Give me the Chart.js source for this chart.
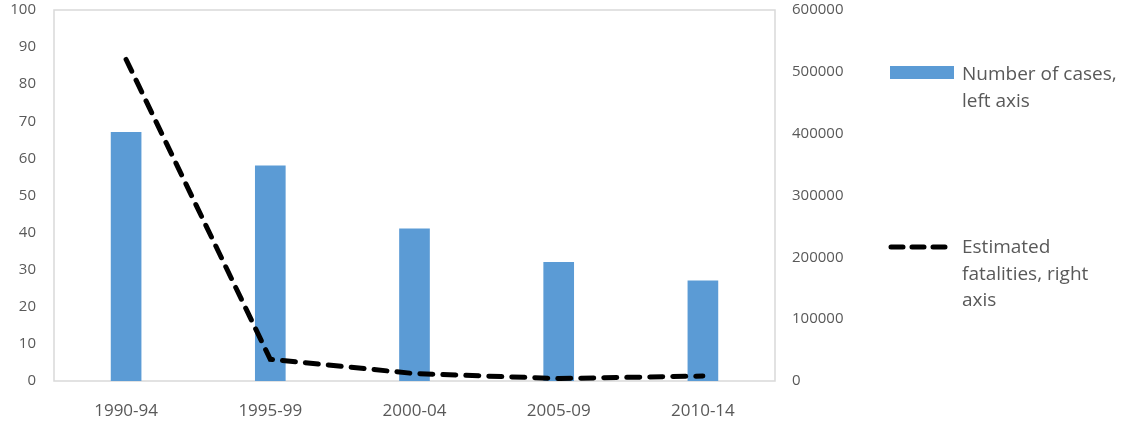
<!DOCTYPE html>
<html>
<head>
<meta charset="utf-8">
<script src="https://cdn.jsdelivr.net/npm/chart.js@4/dist/chart.umd.min.js"></script>
<style>
  html, body { margin: 0; padding: 0; background: #fff; }
  #wrap { position: relative; width: 1127px; height: 421px; }
</style>
</head>
<body>
<div id="wrap"><canvas id="chart" width="1127" height="421"></canvas></div>
<script>
const periods = ['1990-94', '1995-99', '2000-04', '2005-09', '2010-14'];
const cases = [67, 58, 41, 32, 27];
const fatalities = [520000, 35000, 12000, 4000, 8000];
const leftTicks = [0, 10, 20, 30, 40, 50, 60, 70, 80, 90, 100];
const rightTicks = [0, 100000, 200000, 300000, 400000, 500000, 600000];
const legendLines = [['Number of cases,', 'left axis'], ['Estimated', 'fatalities, right', 'axis']];

const gray = '#595959';
const frame = '#d9d9d9';

// box round the plot area
const frameBox = {
  id: 'frameBox',
  beforeDatasetsDraw(c) {
    const a = c.chartArea, ctx = c.ctx;
    ctx.save();
    ctx.strokeStyle = frame;
    ctx.lineWidth = 1.5;
    ctx.strokeRect(a.left, a.top, a.right - a.left, a.bottom - a.top);
    ctx.restore();
  }
};

// legend on the right, lines broken like the original
const sideLegend = {
  id: 'sideLegend',
  afterDraw(c) {
    const ctx = c.ctx;
    const ds = c.data.datasets;
    ctx.save();
    ctx.font = '19px "Open Sans"';
    ctx.textBaseline = 'middle';

    ctx.fillStyle = ds[0].backgroundColor;
    ctx.fillRect(890, 66, 64, 13);

    ctx.strokeStyle = ds[1].borderColor;
    ctx.lineWidth = 5;
    ctx.lineCap = 'round';
    ctx.setLineDash([12, 9]);
    ctx.beginPath();
    ctx.moveTo(891, 247);
    ctx.lineTo(950, 247);
    ctx.stroke();

    ctx.fillStyle = gray;
    const starts = [75, 248];
    legendLines.forEach((lines, i) => {
      lines.forEach((t, j) => ctx.fillText(t, 962, starts[i] + j * 26.5));
    });
    ctx.restore();
  }
};

new Chart(document.querySelector('#chart').getContext('2d'), {
  type: 'bar',
  data: {
    labels: periods,
    datasets: [
      {
        label: 'Number of cases, left axis',
        data: cases,
        backgroundColor: '#5b9bd5',
        barThickness: 30,
        yAxisID: 'y',
        order: 2
      },
      {
        type: 'line',
        label: 'Estimated fatalities, right axis',
        data: fatalities,
        borderColor: '#000',
        borderWidth: 5,
        borderDash: [13, 10],
        borderCapStyle: 'round',
        pointRadius: 0,
        tension: 0,
        fill: false,
        yAxisID: 'y1',
        order: 1
      }
    ]
  },
  options: {
    responsive: false,
    animation: false,
    layout: { padding: { top: 10 } },
    plugins: { legend: { display: false }, tooltip: { enabled: false } },
    scales: {
      x: {
        grid: { display: false, drawTicks: false },
        border: { display: false },
        ticks: { color: gray, font: { family: 'Open Sans', size: 17 }, padding: 20 },
        afterFit(s) { s.height = 40; }
      },
      y: {
        position: 'left',
        min: 0, max: 100,
        afterBuildTicks(s) { s.ticks = leftTicks.map(v => ({ value: v })); },
        grid: { display: false, drawTicks: true, tickLength: 18 },
        border: { display: false },
        ticks: { color: gray, font: { family: 'Open Sans', size: 15 }, padding: 0 },
        afterFit(s) { s.width = 54; }
      },
      y1: {
        position: 'right',
        min: 0, max: 600000,
        afterBuildTicks(s) { s.ticks = rightTicks.map(v => ({ value: v })); },
        grid: { display: false, drawTicks: true, tickLength: 17 },
        border: { display: false },
        ticks: { color: gray, font: { family: 'Open Sans', size: 15 }, padding: 0, callback: v => String(v) },
        afterFit(s) { s.width = 352; }
      }
    }
  },
  plugins: [frameBox, sideLegend]
});
</script>
</body>
</html>
